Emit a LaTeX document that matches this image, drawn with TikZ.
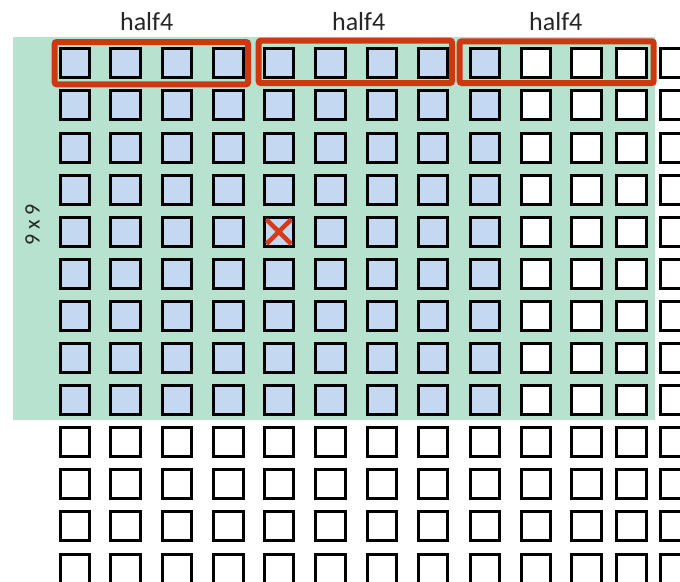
\documentclass[tikz,border=0pt]{standalone}
\usepackage{fontspec}
\setmainfont{Carlito}
\definecolor{bggreen}{RGB}{183,226,207}
\definecolor{cellblue}{RGB}{196,216,242}
\definecolor{boxred}{RGB}{206,56,16}
\definecolor{xred}{RGB}{214,58,26}
\tikzset{
  sq/.style={draw=black, line width=3pt, minimum width=29.5pt, minimum height=29pt, inner sep=0pt, fill=white},
  sqblue/.style={sq, fill=cellblue},
  redbox/.style={draw=boxred, line width=6pt, rounded corners=2pt},
  lbl/.style={font=\fontsize{26}{30}\selectfont, text=black!85, anchor=base, inner sep=0pt},
}
\begin{document}
\begin{tikzpicture}[x=1pt,y=-1pt]
\useasboundingbox (0,0) rectangle (680,581);
\clip (0,0) rectangle (680,581);
% green background region
\fill[bggreen] (12.7,37.3) rectangle (655,420);
% grid of squares
\foreach \c [count=\ci] in {74.8,125.5,177.2,228.5,278.8,330.5,382.2,433.2,484.8,535.8,586.5,631.5,675.5}{
  \foreach \r [count=\ri] in {63.3,105.4,147.5,189.6,231.7,273.8,315.9,358.0,400.1,442.2,484.3,526.4,568.5}{
    \pgfmathsetmacro{\isblue}{(\ci<10)&&(\ri<10)?1:0}
    \ifdim\isblue pt>0.5pt
      \node[sqblue] (s-\ri-\ci) at (\c,\r) {};
    \else
      \node[sq] (s-\ri-\ci) at (\c,\r) {};
    \fi
  }
}
% red group boxes
\draw[redbox] (54.7,42) rectangle (248,84.3);
\draw[redbox] (258.7,40.7) rectangle (452,83);
\draw[redbox] (459.7,41.3) rectangle (653.7,83);
% labels
\node[lbl] (h1) at (146.7,30.5) {half4};
\node[lbl] (h2) at (358.7,30.5) {half4};
\node[lbl] (h3) at (555.8,30.5) {half4};
\node[font=\fontsize{22}{26}\selectfont, text=black!85, rotate=90, inner sep=0pt] (dim) at (32.5,225) {9 x 9};
% red cross
\draw[xred, line width=4.5pt] (s-5-5.center) ++(-12.3,-12.2) -- ++(24.6,24.4);
\draw[xred, line width=4.5pt] (s-5-5.center) ++(12.3,-12.2) -- ++(-24.6,24.4);
\end{tikzpicture}
\end{document}
